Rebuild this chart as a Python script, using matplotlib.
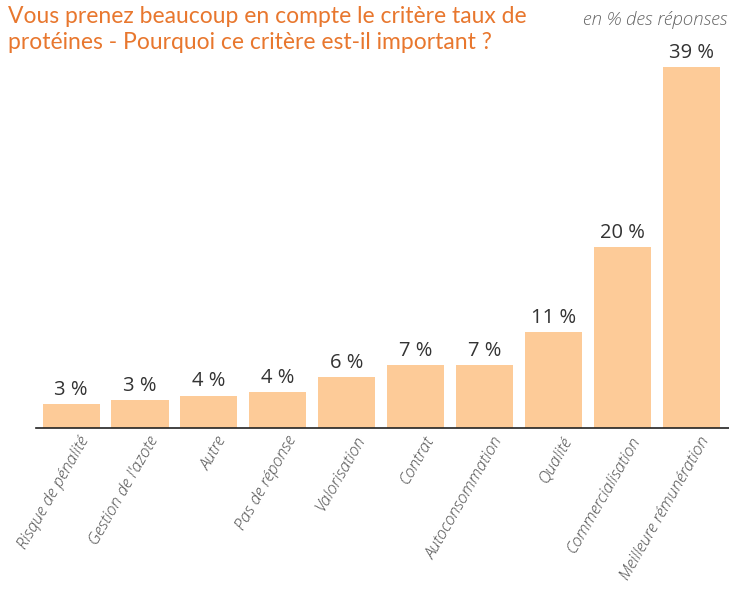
import matplotlib.pyplot as plt
from matplotlib.transforms import ScaledTranslation

categories = ["Risque de pénalité", "Gestion de l'azote", "Autre", "Pas de réponse",
              "Valorisation", "Contrat", "Autoconsommation", "Qualité",
              "Commercialisation", "Meilleure rémunération"]
values = [2.6, 3.05, 3.5, 3.9, 5.5, 6.8, 6.8, 10.35, 19.55, 39.0]
value_labels = ["3 %", "3 %", "4 %", "4 %", "6 %", "7 %", "7 %", "11 %", "20 %", "39 %"]

title = "Vous prenez beaucoup en compte le critère taux de\nprotéines - Pourquoi ce critère est-il important ?"
note = "en % des réponses"

W, H = 729, 595
fig = plt.figure(figsize=(W / 100, H / 100), dpi=100)
# axes in pixel coords: left 36, right 729, bottom 428, top 60
ax = fig.add_axes([36 / W, 1 - 428 / H, (729 - 36) / W, (428 - 60) / H])

x = range(len(categories))
bars = ax.bar(x, values, width=0.83, color="#FDCB98")
for b, lab in zip(bars, value_labels):
    ax.text(b.get_x() + b.get_width() / 2, b.get_height() + 0.45, lab,
            ha="center", va="bottom", fontsize=14.5, color="#333333", family="Open Sans")

ax.set_xlim(-0.51, 9.55)
ax.set_ylim(0, 39.75)
ax.set_yticks([])
ax.set_xticks(list(x))
ax.set_xticklabels(categories, rotation=60, ha="right", rotation_mode="anchor",
                   fontsize=12, style="italic", color="#4d4d4d", family="Open Sans",
                   fontweight="light")
ax.tick_params(axis="x", length=0, pad=4)
shift = ScaledTranslation(8 / 100, 0, fig.dpi_scale_trans)
for t in ax.get_xticklabels():
    t.set_transform(t.get_transform() + shift)
for s in ["top", "right", "left"]:
    ax.spines[s].set_visible(False)
ax.spines["bottom"].set_linewidth(1.2)
ax.spines["bottom"].set_color("#222222")

fig.text(8 / W, 1 - 6 / H, title, ha="left", va="top", fontsize=16.5, color="#E8772E",
         family="Lato", linespacing=1.3)
fig.text(727 / W, 1 - 11 / H, note, ha="right", va="top", fontsize=13.5, style="italic",
         color="#666666", family="Open Sans", fontweight="light")

fig.savefig("out.png", dpi=100)
